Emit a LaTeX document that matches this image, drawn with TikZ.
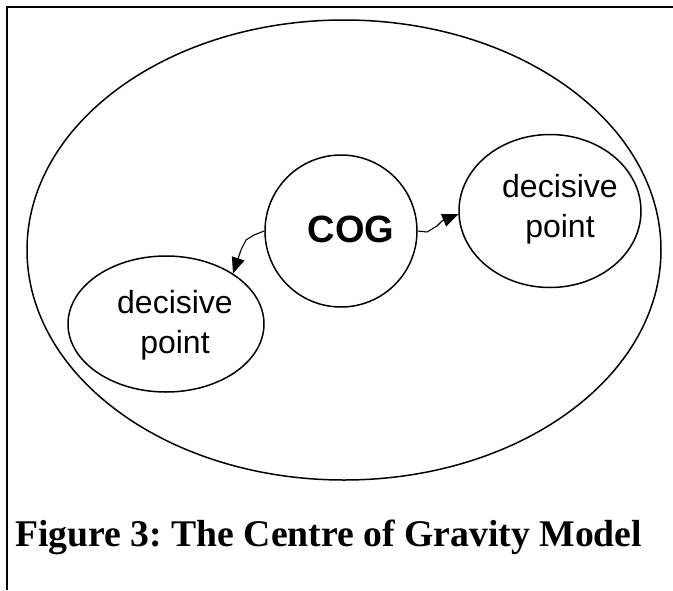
\documentclass[tikz,border=0pt]{standalone}
\usepackage{fontspec}
\setmainfont{Liberation Serif}
\newfontfamily\arialfont{Liberation Sans}
\usetikzlibrary{shapes.geometric,arrows.meta}
\tikzset{
  line/.style={draw=black,line width=1.5pt},
  oval/.style={ellipse,line,inner sep=0pt},
  lbl/.style={font=\arialfont\fontsize{32}{40}\selectfont,align=center,inner sep=0pt},
  link/.style={draw=black,line width=1.1pt,-{Triangle[length=16pt,width=13pt]}},
}
\begin{document}
\begin{tikzpicture}[x=1pt,y=-1pt]
\useasboundingbox (0,0) rectangle (673,590);
% frame
\draw[line width=2pt] (7,590) -- (7,7) -- (673,7);
% outer ellipse
\node[oval,minimum width=634pt,minimum height=460pt] (outer) at (344,250) {};
% COG
\node[circle,line,minimum size=152pt,inner sep=0pt] (cog) at (341,231) {};
\node[font=\arialfont\bfseries\fontsize{38}{44}\selectfont,inner sep=0pt] (cogtext) at (351,229) {COG};
% decisive points
\node[oval,minimum width=182pt,minimum height=153pt] (dpr) at (550,211) {};
\node[lbl] (dprtext) at (560,209) {decisive\\point};
\node[oval,minimum width=196pt,minimum height=136pt] (dpl) at (166,324) {};
\node[lbl] (dpltext) at (175,325) {decisive\\point};
% connectors
\coordinate (c1) at (254,235);
\coordinate (c2) at (246,240);
\coordinate (c3) at (241,250);
\draw[link] (cog.west) -- (c1) -- (c2) -- (c3) -- (dpl.37);
\coordinate (r1) at (427,232);
\coordinate (r2) at (437,226);
\coordinate (r3) at (442,221);
\draw[link] (cog.east) -- (r1) -- (r2) -- (r3) -- (dpr.182);
% caption
\node[anchor=base west,inner sep=0pt,font=\bfseries\fontsize{37.7}{44}\selectfont] (caption) at (15,546) {\frenchspacing Figure 3: The Centre of Gravity Model};
\end{tikzpicture}
\end{document}
